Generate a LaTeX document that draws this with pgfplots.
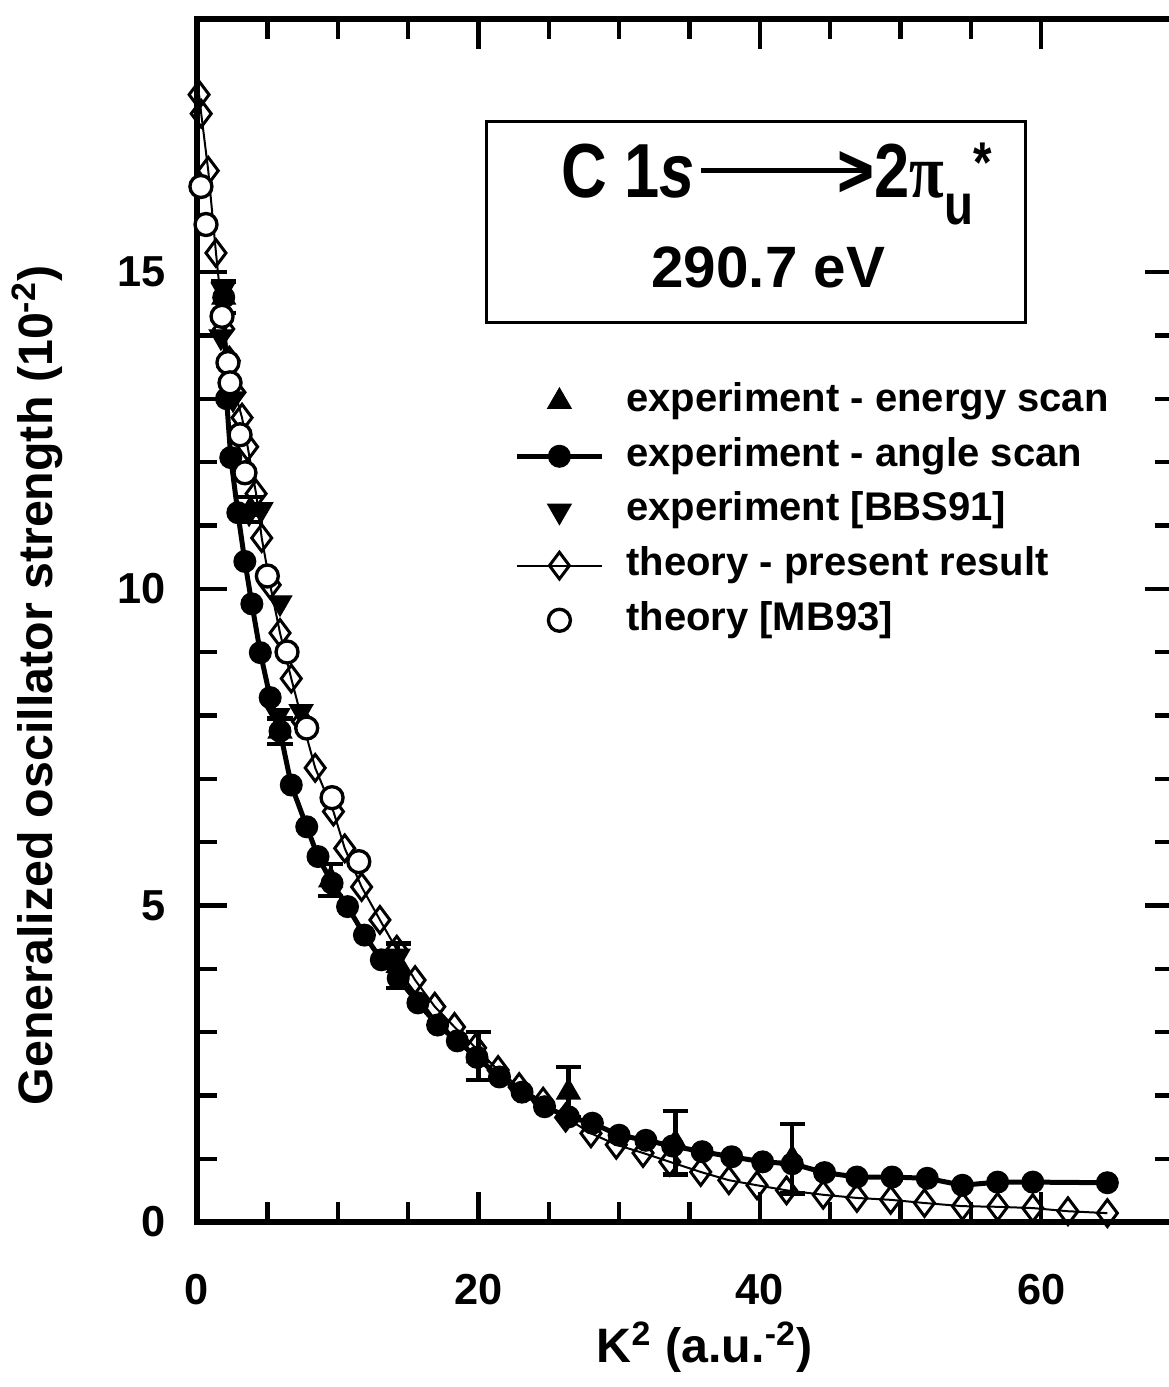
\documentclass[border=0pt]{standalone}
\usepackage{pgfplots}
\pgfplotsset{compat=1.18}
\usepackage{fontspec}
\setmainfont{Liberation Sans}
\newfontfamily\greekserif{Liberation Serif}

\begin{document}
\begin{tikzpicture}
\begin{axis}[
  at={(0,0)}, anchor=south west,
  scale only axis, width=293.5pt, height=361pt,
  xmin=0, xmax=69.53, ymin=0, ymax=19,
  xtick={0,20,40,60}, minor x tick num=3,
  ytick={0,5,10,15}, minor y tick num=4,
  tick align=inside, tick pos=both,
  major tick length=9pt, minor tick length=6pt,
  tick style={line width=1.3pt, black},
  axis line style={line width=1.8pt},
  /pgf/number format/assume math mode=true,
  ticklabel style={font=\fontsize{13}{15}\selectfont\bfseries},
  yticklabel style={xshift=-6pt},
  xticklabel style={yshift=-12pt},
  xlabel={K\textsuperscript{2} (a.u.\textsuperscript{-2})},
  ylabel={Generalized oscillator strength (10\textsuperscript{-2})},
  label style={font=\fontsize{14.5}{17}\selectfont\bfseries},
  xlabel style={at={(axis description cs:0.519,-0.104)}, anchor=center},
  ylabel style={at={(axis description cs:-0.163,0.446)}, anchor=center},
  legend cell align=left,
  legend image code/.code={\draw[mark repeat=2,mark phase=2] plot coordinates {(0cm,0cm) (0.45cm,0cm) (0.9cm,0cm)};},
  legend style={at={(axis cs:22.5,13.28)}, anchor=north west, draw=none, fill=none,
    inner sep=0pt, row sep=4.4pt,
    font=\fontsize{12}{14}\selectfont\bfseries,
    nodes={inner xsep=6.5pt, inner ysep=0pt, text height=9pt, text depth=3pt}},
]

% experiment - energy scan
\addplot[only marks, black, mark=triangle*, mark size=4pt,
  error bars/.cd, y dir=both, y explicit,
  error bar style={line width=1.3pt, black},
  error mark options={rotate=90, mark size=3.8pt, line width=1.3pt, black}]
  table[x=x, y=y, y error=e] {
x y e
1.9 14.6 0.25
3.8 11.25 0.2
5.9 7.75 0.2
9.5 5.4 0.25
14.3 4.05 0.35
20.0 2.62 0.38
26.4 2.05 0.4
34.0 1.25 0.5
42.3 1.0 0.55
};
\addlegendentry{experiment - energy scan}

% experiment - angle scan
\addplot[black, line width=1.5pt, mark=*, mark size=3.2pt, mark options={solid, line width=0.5pt}]
  coordinates {
(1.9,14.6) (2.1,13.0) (2.4,12.07) (2.9,11.2) (3.4,10.43) (3.9,9.76)
(4.5,8.99) (5.2,8.28) (5.9,7.75) (6.7,6.9) (7.8,6.24) (8.6,5.77)
(9.6,5.35) (10.7,4.98) (11.9,4.53) (13.1,4.14) (14.3,3.85) (15.7,3.46)
(17.1,3.11) (18.5,2.86) (19.9,2.6) (21.5,2.29) (23.1,2.05) (24.7,1.82)
(26.4,1.66) (28.1,1.56) (30.0,1.37) (31.9,1.29) (33.8,1.2) (35.9,1.11)
(38.0,1.03) (40.2,0.95) (42.3,0.92) (44.6,0.78) (46.9,0.71) (49.4,0.71)
(51.9,0.69) (54.4,0.58) (56.9,0.63) (59.4,0.63) (64.7,0.62)
};
\addlegendentry{experiment - angle scan}

% experiment [BBS91]
\addplot[only marks, black, mark=triangle*, mark size=4pt, mark options={rotate=180}]
  coordinates {
(1.85,14.72) (1.7,13.98) (2.56,13.0) (3.7,11.2) (4.55,11.25)
(5.9,9.78) (5.76,8.0) (7.4,8.06) (14.3,4.2)
};
\addlegendentry{experiment [BBS91]}

% theory - present result
\addplot[black, line width=0.6pt, mark=diamond, mark size=4pt,
  mark options={solid, fill=white, line width=0.9pt}]
  coordinates {
(0.15,17.8) (0.3,17.5) (0.8,16.6) (1.35,15.3) (1.9,14.1) (2.3,13.6)
(2.7,13.1) (3.2,12.7) (3.6,12.24) (4.2,11.5) (4.6,10.8) (5.2,10.06)
(5.9,9.3) (6.7,8.58) (7.5,7.9) (8.4,7.17) (9.7,6.48) (10.5,5.9)
(11.7,5.29) (13.0,4.77) (14.2,4.3) (15.5,3.82) (16.9,3.40) (18.3,3.08)
(19.8,2.75) (21.4,2.4) (22.9,2.13) (24.6,1.9) (26.2,1.65) (28.0,1.4)
(29.8,1.22) (31.7,1.09) (33.6,0.95) (35.8,0.79) (37.8,0.66) (39.8,0.58)
(41.9,0.5) (44.5,0.43) (46.9,0.38) (49.3,0.35) (51.7,0.3) (54.4,0.25)
(56.9,0.24) (59.4,0.22) (61.9,0.17) (64.7,0.14)
};
\addlegendentry{theory - present result}

% theory [MB93]
\addplot[only marks, black, mark=*, mark size=3.3pt,
  mark options={fill=white, line width=1pt}]
  coordinates {
(0.28,16.35) (0.64,15.75) (1.78,14.3) (2.2,13.57) (2.35,13.25)
(3.06,12.43) (3.41,11.83) (5.0,10.2) (6.4,9.0) (7.8,7.8)
(9.6,6.7) (11.5,5.69)
};
\addlegendentry{theory [MB93]}

\draw[line width=0.9pt] (axis cs:20.6,14.21) rectangle (axis cs:58.85,17.37);
\node[anchor=base, inner sep=0pt] at (axis cs:41.2,16.17)
  {\scalebox{0.95}[1.15]{\fontsize{20}{24}\selectfont\bfseries C 1\textit{s}\kern0.1em\rule[0.33em]{2.6em}{0.065em}\kern-0.45em>2{\greekserif π}\raisebox{-0.35em}{\fontsize{15}{18}\selectfont u}\raisebox{0.2em}{\fontsize{15}{18}\selectfont *}}};
\node[anchor=base, inner sep=0pt, font=\fontsize{17.5}{20}\selectfont\bfseries] at (axis cs:40.6,14.76)
  {290.7 eV};
\end{axis}
\pgfresetboundingbox
\path (-59.1pt,-49.5pt) rectangle (291.6pt,366.6pt);
\end{tikzpicture}
\end{document}
